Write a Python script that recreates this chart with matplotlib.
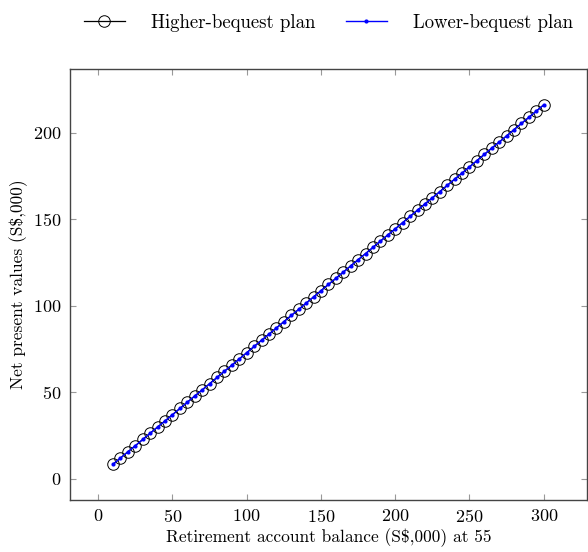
import numpy as np
import matplotlib.pyplot as plt

plt.rcParams['font.family'] = 'serif'
plt.rcParams['font.serif'] = ['cmr10', 'DejaVu Serif']
plt.rcParams['mathtext.fontset'] = 'cm'
plt.rcParams['axes.formatter.use_mathtext'] = True

balance = [10, 15, 20, 25, 30, 35, 40, 45, 50, 55, 60, 65, 70, 75, 80, 85, 90, 95,
           100, 105, 110, 115, 120, 125, 130, 135, 140, 145, 150, 155, 160, 165, 170,
           175, 180, 185, 190, 195, 200, 205, 210, 215, 220, 225, 230, 235, 240, 245,
           250, 255, 260, 265, 270, 275, 280, 285, 290, 295, 300]

npv_high = [8.5, 12.1, 15.7, 19.2, 22.8, 26.4, 30.0, 33.5, 37.1, 40.7, 44.3, 47.9,
            51.4, 55.0, 58.6, 62.2, 65.7, 69.3, 72.9, 76.5, 80.1, 83.6, 87.2, 90.8,
            94.4, 97.9, 101.5, 105.1, 108.7, 112.3, 115.8, 119.4, 123.0, 126.6, 130.1,
            133.7, 137.3, 140.9, 144.4, 148.0, 151.6, 155.2, 158.8, 162.3, 165.9, 169.5,
            173.1, 176.6, 180.2, 183.8, 187.4, 191.0, 194.5, 198.1, 201.7, 205.3, 208.8,
            212.4, 216.0]

npv_low = [8.5, 12.1, 15.7, 19.2, 22.8, 26.4, 30.0, 33.5, 37.1, 40.7, 44.3, 47.9,
           51.4, 55.0, 58.6, 62.2, 65.7, 69.3, 72.9, 76.5, 80.1, 83.6, 87.2, 90.8,
           94.4, 97.9, 101.5, 105.1, 108.7, 112.3, 115.8, 119.4, 123.0, 126.6, 130.1,
           133.7, 137.3, 140.9, 144.4, 148.0, 151.6, 155.2, 158.8, 162.3, 165.9, 169.5,
           173.1, 176.6, 180.2, 183.8, 187.4, 191.0, 194.5, 198.1, 201.7, 205.3, 208.8,
           212.4, 216.0]

fig = plt.figure(figsize=(5.88, 5.52), dpi=100)
ax = fig.add_axes([0.119, 0.094, 0.879, 0.781])

ax.plot(balance, npv_high, c='black', lw=0.9, marker='o', ms=8.3,
        mfc='none', mec='black', mew=0.7, label='Higher-bequest plan')
ax.plot(balance, npv_low, c='blue', lw=1.0, marker='o', ms=2.0,
        mfc='blue', mec='blue', label='Lower-bequest plan')

ax.set_xlim([-19, 329])
ax.set_ylim([-12.2, 236.7])
ax.set_xticks([0, 50, 100, 150, 200, 250, 300])
ax.set_yticks([0, 50, 100, 150, 200])

ax.tick_params(direction='in', length=4.5, width=0.8, color='#999999',
               top=True, right=True, labelsize=13, pad=6)
for s in ax.spines.values():
    s.set_color('#444444')
    s.set_linewidth(1.0)

ax.set_xlabel('Retirement account balance (S\\$,000) at 55', fontsize=12.5, labelpad=2)
ax.set_ylabel('Net present values (S\\$,000)', fontsize=12.5, labelpad=4)

ax.legend(loc='center', bbox_to_anchor=(0.5, 1.107), ncol=2, frameon=False,
          fontsize=13.5, handlelength=2.2, columnspacing=1.6, handletextpad=1.4)

plt.savefig('out.png')
